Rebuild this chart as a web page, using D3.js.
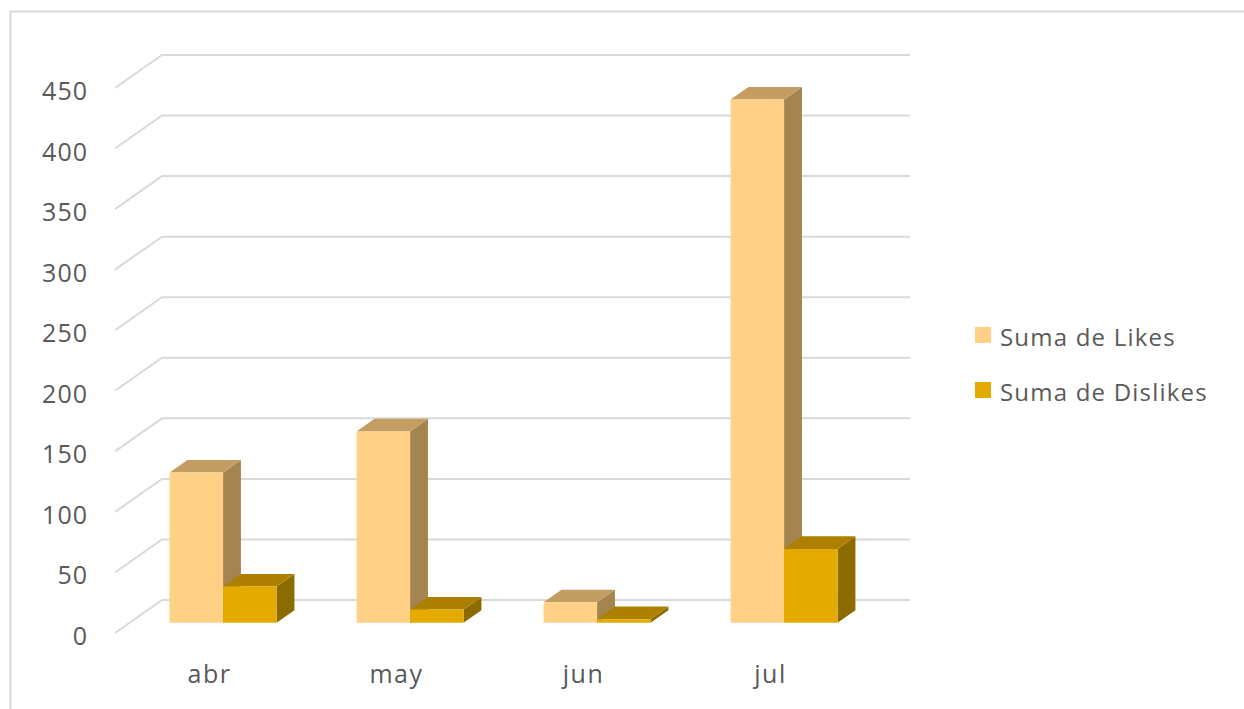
<!DOCTYPE html>
<html>
<head>
<meta charset="utf-8">
<script src="https://cdn.jsdelivr.net/npm/d3@7"></script>
<style>
  html, body { margin: 0; padding: 0; background: #fff; }
  svg { display: block; }
  text { font-family: "Open Sans", "Noto Sans", sans-serif; fill: #595959; }
</style>
</head>
<body>
<svg id="chart" width="1244" height="709"></svg>
<script>
// data
var months = ['abr', 'may', 'jun', 'jul'];
var seriesNames = ['Suma de Likes', 'Suma de Dislikes'];
var likes = [124, 158, 17, 432];
var dislikes = [30, 11, 3, 61];
var yTicks = [0, 50, 100, 150, 200, 250, 300, 350, 400, 450];

// colours: front, top, side
var colors = [
  { front: '#ffd085', top: '#c49d63', side: '#a48550' },
  { front: '#e5aa00', top: '#ad8000', side: '#8c6c00' }
];

var svg = d3.select('#chart');
var DX = 47, DY = 33;      // depth offset of the back wall
var z0 = 0.31, z1 = 0.69;  // bar depth range

var y = d3.scaleLinear().domain([0, 450]).range([633, 88]);
var x0 = d3.scaleBand().domain(months).range([115, 863])
  .paddingInner(0.428).paddingOuter(0.214);
var x1 = d3.scaleBand().domain(seriesNames).range([0, x0.bandwidth()]);

function proj(px, py, z) { return [px + z * DX, py - z * DY]; }
function poly(pts) { return pts.map(function(p){ return p.join(','); }).join(' '); }

// outer frame (only top and left visible)
svg.append('path')
  .attr('d', 'M10.5,709 L10.5,11.5 L1244,11.5')
  .attr('fill', 'none').attr('stroke', '#d9d9d9').attr('stroke-width', 2);

// gridlines
var x0min = x0.range()[0], x0max = x0.range()[1];
svg.append('g').selectAll('polyline')
  .data(yTicks).enter().append('polyline')
  .attr('points', function(t){
    return poly([proj(x0min, y(t), 0), proj(x0min, y(t), 1), proj(x0max, y(t), 1)]);
  })
  .attr('fill', 'none').attr('stroke', '#d9d9d9').attr('stroke-width', 2);

// y labels
svg.append('g').selectAll('text')
  .data(yTicks).enter().append('text')
  .attr('x', 88).attr('y', function(t){ return y(t) + 2; })
  .attr('text-anchor', 'end').attr('dominant-baseline', 'central')
  .style('font-size', '25px').style('letter-spacing', '1px')
  .text(function(t){ return t; });

// bars
var bars = [];
months.forEach(function(m, i){
  bars.push({ m: m, s: 0, v: likes[i] });
  bars.push({ m: m, s: 1, v: dislikes[i] });
});

var g = svg.append('g');
bars.forEach(function(b){
  var xl = x0(b.m) + x1(seriesNames[b.s]);
  var xr = xl + x1.bandwidth();
  var yt = y(b.v), yb = y(0);
  var c = colors[b.s];
  g.append('polygon')
    .attr('points', poly([proj(xr, yt, z0), proj(xr, yb, z0), proj(xr, yb, z1), proj(xr, yt, z1)]))
    .attr('fill', c.side);
  g.append('polygon')
    .attr('points', poly([proj(xl, yt, z0), proj(xr, yt, z0), proj(xr, yt, z1), proj(xl, yt, z1)]))
    .attr('fill', c.top);
  g.append('polygon')
    .attr('points', poly([proj(xl, yt, z0), proj(xr, yt, z0), proj(xr, yb, z0), proj(xl, yb, z0)]))
    .attr('fill', c.front);
});

// x labels
svg.append('g').selectAll('text')
  .data(months).enter().append('text')
  .attr('x', function(m){ return x0(m) + x0.bandwidth() / 2 + 1; })
  .attr('y', 673)
  .attr('text-anchor', 'middle').attr('dominant-baseline', 'central')
  .style('font-size', '25px').style('letter-spacing', '1.5px')
  .text(function(m){ return m; });

// legend
var legend = svg.append('g').selectAll('g')
  .data(seriesNames).enter().append('g')
  .attr('transform', function(d, i){ return 'translate(975,' + (335 + i * 55) + ')'; });
legend.append('rect')
  .attr('x', 0).attr('y', -8).attr('width', 16).attr('height', 16)
  .attr('fill', function(d, i){ return colors[i].front; });
legend.append('text')
  .attr('x', 25).attr('y', 1)
  .attr('dominant-baseline', 'central')
  .style('font-size', '24px').style('letter-spacing', '1.2px')
  .text(function(d){ return d; });
</script>
</body>
</html>
